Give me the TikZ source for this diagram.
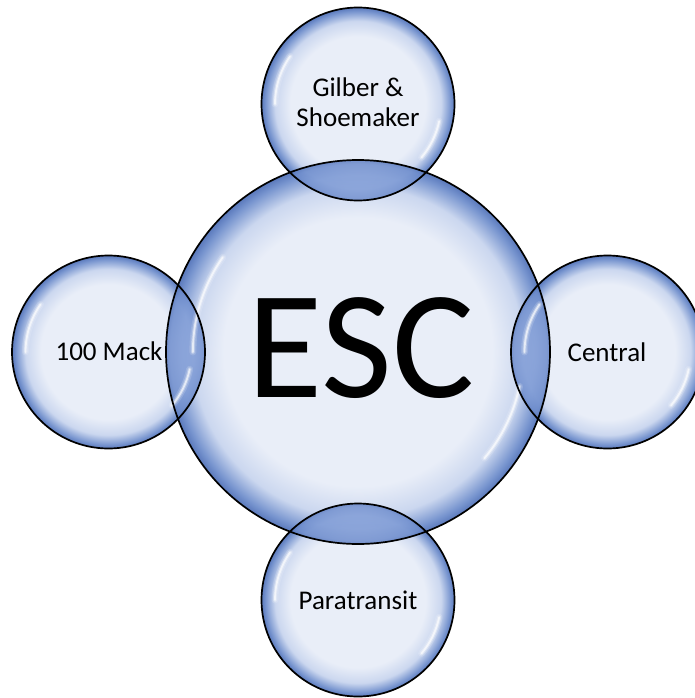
\documentclass[tikz,border=0pt]{standalone}
\usepackage{fontspec}
\setmainfont{Carlito}
\usetikzlibrary{calc}
\definecolor{bin}{HTML}{E9EEF8}
\definecolor{bmid}{HTML}{CBD7EF}
\definecolor{bedge}{HTML}{7895CF}
\definecolor{bdark}{HTML}{5A79BC}
\definecolor{lA}{HTML}{A9BCE4}
\definecolor{lB}{HTML}{9AB0DF}
\definecolor{lC}{HTML}{86A1D8}
\definecolor{lD}{HTML}{6B8ACA}
\definecolor{lE}{HTML}{4D6EB5}
\pgfdeclareradialshading{bubble}{\pgfpoint{0bp}{0bp}}{color(0bp)=(bin); color(17.5bp)=(bin); color(21.5bp)=(bmid); color(24bp)=(bedge); color(25bp)=(bdark); color(50bp)=(bdark)}
\pgfdeclareradialshading{lenssmall}{\pgfpoint{0bp}{0bp}}{color(0bp)=(lA); color(15bp)=(lB); color(22bp)=(lC); color(24.3bp)=(lD); color(25bp)=(lE); color(50bp)=(lE)}
\pgfdeclareradialshading{lensbig}{\pgfpoint{0bp}{0bp}}{color(0bp)=(lB); color(20bp)=(lB); color(23bp)=(lC); color(24.5bp)=(lD); color(25bp)=(lE); color(50bp)=(lE)}
\begin{document}
\begin{tikzpicture}[x=1pt,y=-1pt,
  lbl/.style={font=\fontsize{27}{28}\selectfont, text=black, inner sep=0pt},
  outline/.style={draw=black, line width=1.7pt},
  hl/.style={draw=white, line cap=round}]
\useasboundingbox (0,0) rectangle (695,698);
\coordinate (cC) at (358,352);
\coordinate (cT) at (358,104);
\coordinate (cB) at (358,600);
\coordinate (cL) at (108.5,352);
\coordinate (cR) at (607.5,352);
\def\Rb{192pt}
\def\Rs{96.5pt}
% bubbles
\shade[shading=bubble] (cC) circle[radius=\Rb];
\foreach \c in {cT,cB,cL,cR}{
  \shade[shading=bubble] (\c) circle[radius=\Rs];
}
% overlap lenses
\foreach \c in {cT,cB,cL,cR}{
  \begin{scope}
    \clip (cC) circle[radius=\Rb];
    \clip (\c) circle[radius=\Rs];
    \shade[shading=lenssmall] (\c) circle[radius=\Rs];
    \shade[shading=lensbig, opacity=0.5] (cC) circle[radius=\Rb];
  \end{scope}
}
% highlights
\foreach \c/\r in {cC/192, cT/96.5, cB/96.5, cL/96.5, cR/96.5}{
  \foreach \w/\o in {7/0.15, 4/0.3, 1.8/0.65}{
    \draw[hl, line width=\w pt, opacity=\o]
      ($(\c)+({0.86*\r*cos(145)},{-0.86*\r*sin(145)})$)
      arc[start angle=145, end angle=180, radius={0.86*\r*1pt}];
    \draw[hl, line width=\w pt, opacity=\o]
      ($(\c)+({0.86*\r*cos(-12)},{-0.86*\r*sin(-12)})$)
      arc[start angle=-12, end angle=-40, radius={0.86*\r*1pt}];
  }
}
% outlines
\draw[outline] (cC) circle[radius=\Rb];
\foreach \c in {cT,cB,cL,cR}{
  \draw[outline] (\c) circle[radius=\Rs];
}
% texts
\node[font=\fontsize{154}{156}\selectfont, inner sep=0pt, anchor=base] (esc) at (361,397) {ESC};
\node[lbl, anchor=base] (gil) at (358,97) {Gilber \&};
\node[lbl, anchor=base] (sho) at (358,126) {Shoemaker};
\node[lbl, anchor=base] (mack) at (109,360) {100 Mack};
\node[lbl, anchor=base] (cen) at (607,361) {Central};
\node[lbl, anchor=base] (para) at (358,609) {Paratransit};
\end{tikzpicture}
\end{document}
